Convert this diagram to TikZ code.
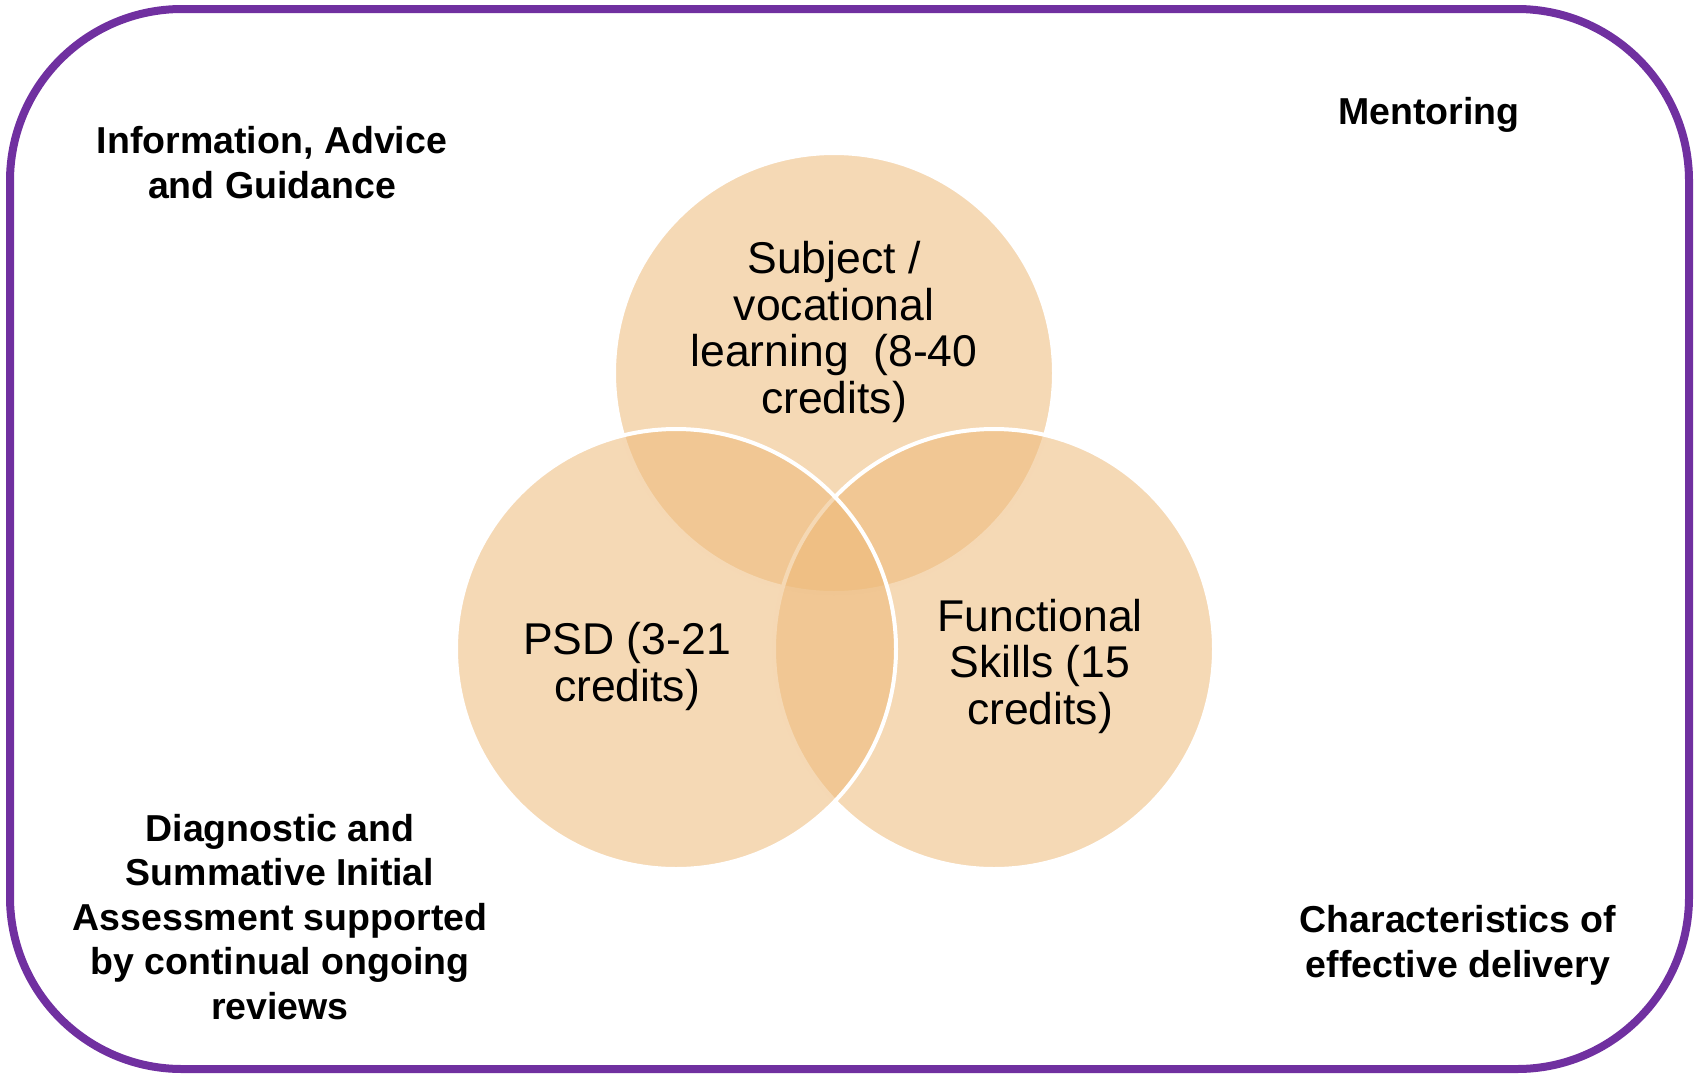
\documentclass[tikz,border=0pt]{standalone}
\usepackage{fontspec}
\setmainfont{Liberation Sans}
\definecolor{vborder}{RGB}{112,48,160}
\definecolor{vfill}{RGB}{237,185,120}
\begin{document}
\begin{tikzpicture}[x=1pt,y=-1pt,
  venn/.style={circle, minimum size=440pt, inner sep=0pt, fill=vfill, fill opacity=0.55, draw=white, line width=4pt},
  inlabel/.style={align=center, anchor=base, inner sep=0pt, font=\fontsize{44.5}{46.5}\selectfont},
  outlabel/.style={align=center, anchor=base, inner sep=0pt, font=\fontsize{37.5}{44.5}\selectfont\bfseries}]
\useasboundingbox (0,0) rectangle (1696,1074);
\node[draw=vborder, line width=8pt, rounded corners=172pt, minimum width=1679pt, minimum height=1060pt, inner sep=0pt] (frame) at (849.5,539) {};
\node[venn] (subj) at (834,373) {};
\node[venn] (func) at (994,649) {};
\node[venn] (psd) at (676,649) {};
\node[inlabel] (subjt) at (834,413) {Subject /\\vocational\\learning\ \ (8-40\\credits)};
\node[inlabel] (psdt) at (627,701) {PSD (3-21\\credits)};
\node[inlabel] (funct) at (1040,724) {Functional\\Skills (15\\credits)};
\node[outlabel] (iag) at (272,198) {Information, Advice\\and Guidance};
\node[outlabel] (ment) at (1429,124) {Mentoring};
\node[outlabel] (diag) at (280,1019) {Diagnostic and\\Summative Initial\\Assessment supported\\by continual ongoing\\reviews};
\node[outlabel] (char) at (1458,977) {Characteristics of\\effective delivery};
\end{tikzpicture}
\end{document}
